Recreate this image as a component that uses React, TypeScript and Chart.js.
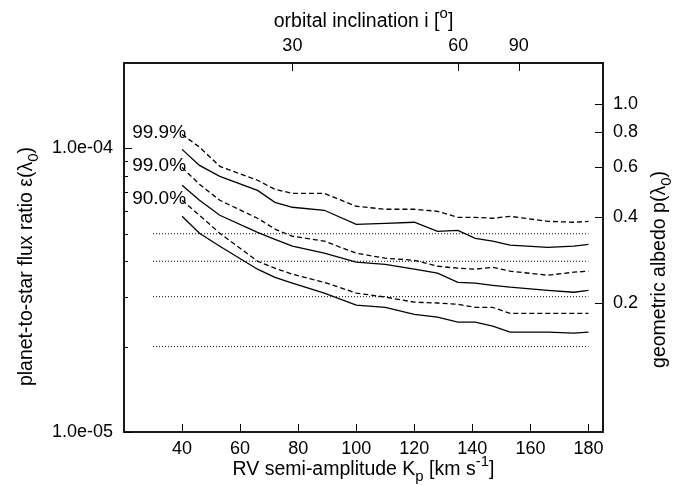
import { useEffect, useRef } from "react";
import { Chart, registerables } from "chart.js";

Chart.register(...registerables);

// RV semi-amplitude grid (km/s)
const kp = [40, 46, 53, 66, 72, 78, 89, 100, 110, 120, 128, 135, 141, 147, 153, 166, 175, 180];

// planet-to-star flux ratio limits
const conf999Dashed = [1.12e-4, 1.01e-4, 8.64e-5, 7.72e-5, 7.17e-5, 6.94e-5, 6.94e-5, 6.25e-5, 6.10e-5, 6.10e-5, 6.00e-5, 5.71e-5, 5.71e-5, 5.67e-5, 5.76e-5, 5.53e-5, 5.49e-5, 5.53e-5];
const conf999Solid = [9.92e-5, 8.71e-5, 7.97e-5, 7.11e-5, 6.45e-5, 6.20e-5, 6.05e-5, 5.40e-5, 5.44e-5, 5.49e-5, 5.10e-5, 5.14e-5, 4.82e-5, 4.71e-5, 4.56e-5, 4.48e-5, 4.52e-5, 4.59e-5];
const conf990Dashed = [8.57e-5, 7.47e-5, 6.56e-5, 5.67e-5, 5.19e-5, 4.90e-5, 4.71e-5, 4.27e-5, 4.10e-5, 4.03e-5, 3.84e-5, 3.78e-5, 3.75e-5, 3.81e-5, 3.69e-5, 3.57e-5, 3.66e-5, 3.69e-5];
const conf990Solid = [7.41e-5, 6.56e-5, 5.81e-5, 5.06e-5, 4.78e-5, 4.52e-5, 4.27e-5, 3.97e-5, 3.90e-5, 3.75e-5, 3.63e-5, 3.37e-5, 3.35e-5, 3.29e-5, 3.24e-5, 3.16e-5, 3.11e-5, 3.16e-5];
const conf900Dashed = [6.56e-5, 5.81e-5, 5.02e-5, 4.00e-5, 3.78e-5, 3.60e-5, 3.37e-5, 3.09e-5, 2.99e-5, 2.87e-5, 2.85e-5, 2.82e-5, 2.75e-5, 2.75e-5, 2.62e-5, 2.62e-5, 2.62e-5, 2.62e-5];
const conf900Solid = [5.76e-5, 5.02e-5, 4.52e-5, 3.75e-5, 3.51e-5, 3.35e-5, 3.09e-5, 2.80e-5, 2.75e-5, 2.60e-5, 2.54e-5, 2.44e-5, 2.44e-5, 2.36e-5, 2.25e-5, 2.25e-5, 2.23e-5, 2.25e-5];

const confLabels = ["99.9%", "99.0%", "90.0%"];

// dotted reference levels
const refLevels = [5e-5, 4e-5, 3e-5, 2e-5];
const refKpRange = [30, 180];

// axes
const kpMin = 20;
const kpMaxAxis = 185;
const epsMin = 1e-5;
const epsMax = 2e-4;
const bottomTicks = [40, 60, 80, 100, 120, 140, 160, 180];
const topTickDegrees = [30, 60, 90];
const kpAtEdgeOn = 156; // Kp for i = 90 deg
const leftMajorTicks = [1e-5, 1e-4];
const leftMinorTicks = [2e-5, 3e-5, 4e-5, 5e-5, 6e-5, 7e-5, 8e-5, 9e-5];
const albedoTicks = [0.2, 0.4, 0.6, 0.8, 1.0];
const albedoPerEps = 7000;

const FONT = '"Liberation Sans", Arial, Helvetica, sans-serif';
const TICK_SIZE = 18;
const TITLE_SIZE = 19.5;
const LABEL_SIZE = 19;

type Seg = [string, number]; // 0 normal, -1 sub, 1 sup

function segFont(size: number, mode: number) {
  return `${mode === 0 ? size : Math.round(size * 0.75)}px ${FONT}`;
}

function drawRich(ctx: CanvasRenderingContext2D, segs: Seg[], size: number, x: number, baseline: number, rotate: boolean) {
  ctx.save();
  ctx.translate(x, baseline);
  if (rotate) ctx.rotate(-Math.PI / 2);
  let total = 0;
  const widths = segs.map(([t, m]) => {
    ctx.font = segFont(size, m);
    const w = ctx.measureText(t).width;
    total += w;
    return w;
  });
  let cx = -total / 2;
  ctx.textBaseline = "alphabetic";
  ctx.textAlign = "left";
  segs.forEach(([t, m], i) => {
    ctx.font = segFont(size, m);
    const dy = m === -1 ? size * 0.3 : m === 1 ? -size * 0.45 : 0;
    ctx.fillText(t, cx, dy);
    cx += widths[i];
  });
  ctx.restore();
}

function expLabel(v: number) {
  const [m, e] = v.toExponential(1).split("e");
  const n = parseInt(e, 10);
  const sign = n < 0 ? "-" : "+";
  const abs = Math.abs(n).toString().padStart(2, "0");
  return `${m}e${sign}${abs}`;
}

const framePlugin = {
  id: "frame",
  afterDraw(chart: any) {
    const { ctx, chartArea: ca } = chart;
    const xs = chart.scales.x;
    const x2 = chart.scales.x2;
    const ys = chart.scales.y;
    const y2 = chart.scales.y2;
    const major = 8;
    const minor = 4;
    ctx.save();
    ctx.strokeStyle = "#000";
    ctx.fillStyle = "#000";
    ctx.lineWidth = 1;
    ctx.beginPath();
    bottomTicks.forEach((v) => {
      const px = Math.round(xs.getPixelForValue(v)) + 0.5;
      ctx.moveTo(px, ca.bottom);
      ctx.lineTo(px, ca.bottom - major);
    });
    topTickDegrees.forEach((d) => {
      const px = Math.round(x2.getPixelForValue(kpAtEdgeOn * Math.sin((d * Math.PI) / 180))) + 0.5;
      ctx.moveTo(px, ca.top);
      ctx.lineTo(px, ca.top + major);
    });
    leftMajorTicks.forEach((v) => {
      const py = Math.round(ys.getPixelForValue(v)) + 0.5;
      ctx.moveTo(ca.left, py);
      ctx.lineTo(ca.left + major, py);
    });
    leftMinorTicks.forEach((v) => {
      const py = Math.round(ys.getPixelForValue(v)) + 0.5;
      ctx.moveTo(ca.left, py);
      ctx.lineTo(ca.left + minor, py);
    });
    albedoTicks.forEach((v) => {
      const py = Math.round(y2.getPixelForValue(v)) + 0.5;
      ctx.moveTo(ca.right, py);
      ctx.lineTo(ca.right - major, py);
    });
    ctx.stroke();

    ctx.lineWidth = 1.8;
    ctx.strokeRect(ca.left, ca.top, ca.right - ca.left, ca.bottom - ca.top);

    ctx.font = `${TICK_SIZE}px ${FONT}`;
    ctx.textBaseline = "middle";
    ctx.textAlign = "center";
    bottomTicks.forEach((v) => {
      ctx.fillText(String(v), xs.getPixelForValue(v), ca.bottom + 17);
    });
    topTickDegrees.forEach((d) => {
      ctx.fillText(String(d), x2.getPixelForValue(kpAtEdgeOn * Math.sin((d * Math.PI) / 180)), ca.top - 17);
    });
    ctx.textAlign = "right";
    leftMajorTicks.forEach((v) => {
      ctx.fillText(expLabel(v), ca.left - 11, ys.getPixelForValue(v));
    });
    ctx.textAlign = "left";
    albedoTicks.forEach((v) => {
      ctx.fillText(v.toFixed(1), ca.right + 10, y2.getPixelForValue(v));
    });

    // curve labels
    ctx.font = `${LABEL_SIZE}px ${FONT}`;
    ctx.textAlign = "right";
    const starts = [conf999Dashed[0], conf990Dashed[0], conf900Dashed[0]];
    confLabels.forEach((t, i) => {
      ctx.fillText(t, xs.getPixelForValue(kp[0]) + 4, ys.getPixelForValue(starts[i]) - 2);
    });

    // titles
    drawRich(ctx, [["RV semi-amplitude K", 0], ["p", -1], [" [km s", 0], ["-1", 1], ["]", 0]], TITLE_SIZE, (ca.left + ca.right) / 2, ca.bottom + 43, false);
    drawRich(ctx, [["orbital inclination i [", 0], ["o", 1], ["]", 0]], TITLE_SIZE, (ca.left + ca.right) / 2, 27, false);
    drawRich(ctx, [["planet-to-star flux ratio ε(λ", 0], ["0", -1], [")", 0]], TITLE_SIZE, 32, (ca.top + ca.bottom) / 2 + 19, true);
    drawRich(ctx, [["geometric albedo p(λ", 0], ["0", -1], [")", 0]], TITLE_SIZE, 665, (ca.top + ca.bottom) / 2 + 22, true);
    ctx.restore();
  },
};

function series(vals: number[]) {
  return kp.map((k, i) => ({ x: k, y: vals[i] }));
}

export default function App() {
  const ref = useRef<HTMLCanvasElement | null>(null);
  useEffect(() => {
    if (!ref.current) return;
    const solid = { borderColor: "#000", borderWidth: 1.3, pointRadius: 0, fill: false, tension: 0 };
    const dashed = { ...solid, borderDash: [5, 3] };
    const dotted = { borderColor: "#000", borderWidth: 1, borderDash: [1, 2], pointRadius: 0, fill: false };
    const datasets: any[] = [
      { label: "99.9% dashed", data: series(conf999Dashed), ...dashed },
      { label: "99.9% solid", data: series(conf999Solid), ...solid },
      { label: "99.0% dashed", data: series(conf990Dashed), ...dashed },
      { label: "99.0% solid", data: series(conf990Solid), ...solid },
      { label: "90.0% dashed", data: series(conf900Dashed), ...dashed },
      { label: "90.0% solid", data: series(conf900Solid), ...solid },
      ...refLevels.map((lv) => ({
        label: `level ${lv}`,
        data: refKpRange.map((k) => ({ x: k, y: lv })),
        ...dotted,
      })),
    ];
    const hidden = {
      grid: { display: false, drawTicks: false },
      border: { display: false },
      ticks: { display: false },
    };
    const chart = new Chart(ref.current, {
      type: "line",
      data: { datasets },
      options: {
        responsive: false,
        animation: false,
        layout: { padding: 0 },
        plugins: { legend: { display: false }, tooltip: { enabled: false } },
        scales: {
          x: {
            type: "linear", position: "bottom", min: kpMin, max: kpMaxAxis, ...hidden,
            afterFit: (s: any) => { s.height = 54; },
          },
          x2: {
            type: "linear", position: "top", min: kpMin, max: kpMaxAxis, ...hidden,
            afterFit: (s: any) => { s.height = 63; },
          },
          y: {
            type: "logarithmic", position: "left", min: epsMin, max: epsMax, ...hidden,
            afterFit: (s: any) => { s.width = 124; },
          },
          y2: {
            type: "logarithmic", position: "right", min: epsMin * albedoPerEps, max: epsMax * albedoPerEps, ...hidden,
            afterFit: (s: any) => { s.width = 82; },
          },
        },
      } as any,
      plugins: [framePlugin],
    });
    return () => chart.destroy();
  }, []);
  return (
    <div style={{ position: "fixed", left: 0, top: 0, width: 685, height: 486, background: "#fff" }}>
      <canvas ref={ref} width={685} height={486} style={{ display: "block" }} />
    </div>
  );
}
